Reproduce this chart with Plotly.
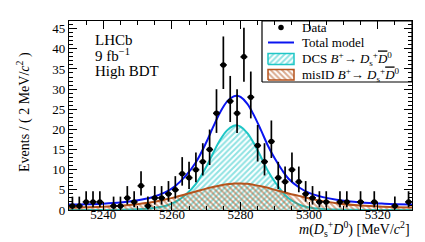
import numpy as np
import plotly.graph_objects as go

# ---- data (bin centres, counts; empty bins omitted) ----
mass = [5231, 5233, 5235, 5237, 5239, 5243, 5245, 5247, 5249, 5251, 5253, 5255, 5257,
        5259, 5261, 5263, 5265, 5267, 5269, 5271, 5273, 5275, 5277, 5279, 5281, 5283,
        5285, 5287, 5289, 5291, 5293, 5295, 5297, 5299, 5301, 5303, 5305, 5309, 5311,
        5315, 5319, 5325, 5329]
counts = [1, 1, 2, 2, 2, 1, 1, 3, 2, 6, 1, 3, 3,
          4, 5, 9, 8, 10, 12, 15, 24, 36, 27, 24, 38, 28,
          16, 12, 17, 8, 7, 10, 7, 4, 3, 2, 2, 2, 2,
          2, 2, 1, 2]

# ---- fitted model curves ----
curve_x = [5230, 5235, 5240, 5245, 5250, 5254, 5258, 5261, 5264, 5267, 5270, 5272, 5274,
           5276, 5278, 5279, 5280, 5282, 5284, 5286, 5288, 5290, 5292, 5294, 5297, 5300,
           5304, 5308, 5315, 5322, 5330]
dcs = [0.0, 0.0, 0.02, 0.05, 0.2, 0.45, 1.0, 2.0, 3.8, 6.5, 10.7, 14.1, 17.3,
       19.7, 20.9, 21.0, 20.7, 19.1, 16.4, 13.1, 9.7, 7.0, 4.7, 2.9, 1.4, 0.6,
       0.25, 0.1, 0.03, 0.01, 0.0]
misid = [0.6, 0.68, 0.8, 1.05, 1.45, 1.9, 2.6, 3.2, 3.9, 4.6, 5.3, 5.7, 6.1,
         6.4, 6.55, 6.6, 6.6, 6.5, 6.2, 5.9, 5.5, 5.0, 4.6, 4.1, 3.5, 2.9,
         2.2, 1.7, 1.1, 0.8, 0.6]
total = [1.35, 1.43, 1.57, 1.85, 2.4, 3.1, 4.35, 5.95, 8.45, 11.85, 16.75, 20.55, 24.15,
         26.85, 28.2, 28.35, 28.05, 26.35, 23.35, 19.75, 15.95, 12.75, 10.05, 7.75, 5.65, 4.25,
         3.2, 2.55, 1.88, 1.56, 1.35]

x_ticks = [5240, 5260, 5280, 5300, 5320]

legend_labels = [
    "Data",
    "Total model",
    "DCS <i>B</i><sup>+</sup>→ <i>D</i><sub>s</sub><sup>+</sup><span style='text-decoration:overline'><i>D</i></span><sup>0</sup>",
    "misID <i>B</i><sup>+</sup>→ <i>D</i><sub>s</sub><sup>+</sup><span style='text-decoration:overline'><i>D</i></span><sup>0</sup>",
]

# Poisson (asymmetric) error bars derived from the counts
n = np.array(counts, dtype=float)
err_hi = np.sqrt(n + 0.75) + 1.0
err_lo = np.sqrt(np.maximum(n - 0.25, 0.0))

FONT = "Liberation Serif"
CYAN = "#1fc6c6"
BROWN = "#b5531c"
BLUE = "#0a14f0"

# plot-area geometry in pixels (for the hand-drawn legend)
L, R, T, B = 61, 404, 13, 202
def px(xp):
    return (xp - L) / (R - L)
def py(yp):
    return (B - yp) / (B - T)

fig = go.Figure()

fig.add_trace(go.Scatter(
    x=curve_x, y=dcs, mode="lines", line=dict(color=CYAN, width=2, shape="spline"),
    fill="tozeroy", fillcolor="rgba(0,0,0,0)",
    fillpattern=dict(shape="/", fgcolor=CYAN, bgcolor="rgba(255,255,255,0)", size=4, solidity=0.5),
    showlegend=False))
fig.add_trace(go.Scatter(
    x=curve_x, y=misid, mode="lines", line=dict(color=BROWN, width=2, shape="spline"),
    fill="tozeroy", fillcolor="rgba(0,0,0,0)",
    fillpattern=dict(shape="\\", fgcolor=BROWN, bgcolor="rgba(255,255,255,0)", size=4, solidity=0.5),
    showlegend=False))
fig.add_trace(go.Scatter(
    x=curve_x, y=total, mode="lines", line=dict(color=BLUE, width=2, shape="spline"),
    showlegend=False))
fig.add_trace(go.Scatter(
    x=mass, y=counts, mode="markers",
    marker=dict(color="black", size=5.5),
    error_y=dict(type="data", symmetric=False, array=err_hi, arrayminus=err_lo,
                 color="black", thickness=1.7, width=0),
    error_x=dict(type="constant", value=1.0, color="black", thickness=1.7, width=0),
    showlegend=False))

# ---- hand-drawn legend on an overlay axis (0..1 over the plot area) ----
ov = dict(xaxis="x2", yaxis="y2", showlegend=False, hoverinfo="skip")
bx0, bx1, by0, by1 = px(254), px(404), py(74), py(13)
fig.add_trace(go.Scatter(x=[bx0, bx1, bx1, bx0, bx0], y=[by0, by0, by1, by1, by0], mode="lines",
                         fill="toself", fillcolor="white", line=dict(color="black", width=1.2), **ov))
fig.add_trace(go.Scatter(x=[px(273)], y=[py(19.5)], mode="markers",
                         marker=dict(color="black", size=5.5), **ov))
fig.add_trace(go.Scatter(x=[px(260), px(286)], y=[py(34.5), py(34.5)], mode="lines",
                         line=dict(color=BLUE, width=2), **ov))
for (y0, y1), col, shp in [((45.5, 56.5), CYAN, "/"), ((61.5, 72.0), BROWN, "\\")]:
    fig.add_trace(go.Scatter(
        x=[px(260), px(286), px(286), px(260), px(260)],
        y=[py(y1), py(y1), py(y0), py(y0), py(y1)], mode="lines", fill="toself",
        fillcolor="rgba(0,0,0,0)", line=dict(color=col, width=1.5),
        fillpattern=dict(shape=shp, fgcolor=col, bgcolor="rgba(255,255,255,0)", size=4, solidity=0.5),
        **ov))
for lab, yy in zip(legend_labels, [19.5, 34.5, 51, 67]):
    fig.add_annotation(xref="paper", yref="paper", x=px(292), y=py(yy), xanchor="left",
                       yanchor="middle", showarrow=False, text=lab,
                       font=dict(family=FONT, size=13, color="black"))

axis_common = dict(showline=True, linecolor="black", linewidth=1.2, mirror="ticks",
                   ticks="inside", tickcolor="black", tickwidth=1, showgrid=False,
                   zeroline=False, tickfont=dict(family=FONT, size=13, color="black"))

fig.update_xaxes(range=[5230, 5330], tickvals=x_ticks, ticklen=8,
                 minor=dict(ticks="inside", dtick=5, tick0=5230, ticklen=4, tickcolor="black"),
                 ticklabelstandoff=-8, **axis_common)
fig.update_yaxes(range=[0, 46.9], dtick=5, tick0=0, ticklen=8,
                 minor=dict(ticks="inside", dtick=1, ticklen=4, tickcolor="black"),
                 **axis_common)

fig.update_layout(
    width=425, height=242,
    margin=dict(l=L, r=425 - R, t=T, b=242 - B),
    plot_bgcolor="white", paper_bgcolor="white",
    font=dict(family=FONT, size=13, color="black"),
    showlegend=False,
    xaxis2=dict(overlaying="x", range=[0, 1], visible=False, fixedrange=True),
    yaxis2=dict(overlaying="y", range=[0, 1], visible=False, fixedrange=True),
)

ann = [
    dict(text="LHCb", x=px(85), y=py(32)),
    dict(text="9 fb<sup>−1</sup>", x=px(85), y=py(47)),
    dict(text="High BDT", x=px(85), y=py(63)),
]
for a in ann:
    fig.add_annotation(xref="paper", yref="paper", xanchor="left", yanchor="middle",
                       showarrow=False, font=dict(family=FONT, size=15, color="black"), **a)

fig.add_annotation(xref="paper", yref="paper", x=1.0, y=py(221), xanchor="right", yanchor="middle",
                   showarrow=False, font=dict(family=FONT, size=14, color="black"),
                   text="<i>m</i>(<i>D</i><sub>s</sub><sup>+</sup><i>D</i><sup>0</sup>) [MeV/<i>c</i><sup>2</sup>]")
fig.add_annotation(xref="paper", yref="paper", x=px(15), y=py(104), xanchor="center", yanchor="middle",
                   textangle=-90, showarrow=False, font=dict(family=FONT, size=14, color="black"),
                   text="Events / ( 2 MeV/<i>c</i><sup>2</sup> )")

fig.write_html("out.html")
